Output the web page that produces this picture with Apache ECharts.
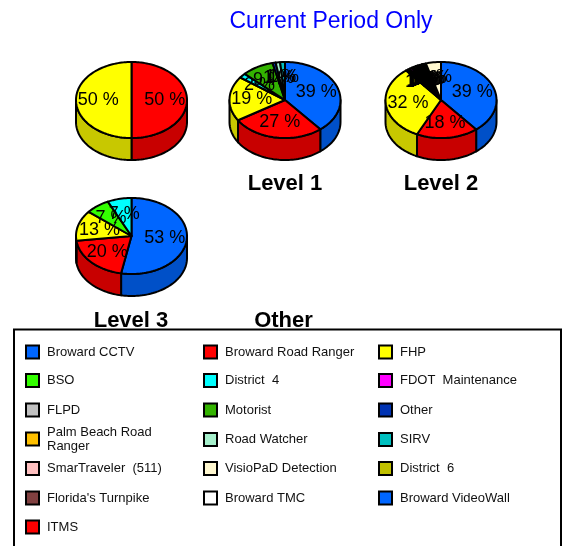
<!DOCTYPE html>
<html>
<head>
<meta charset="utf-8">
<style>html,body{margin:0;padding:0;background:#fff}#c{width:563px;height:546px}</style>
<script src="https://cdn.jsdelivr.net/npm/echarts@6/dist/echarts.min.js"></script>
</head>
<body>
<div id="c"></div>
<script>
const categories = ['Broward CCTV','Broward Road Ranger','FHP','BSO','District  4','FDOT  Maintenance','FLPD','Motorist','Other','Palm Beach Road\nRanger','Road Watcher','SIRV','SmarTraveler  (511)','VisioPaD Detection','District  6',"Florida's Turnpike",'Broward TMC','Broward VideoWall','ITMS'];
const colors = ['#0066FF','#FF0000','#FFFF00','#33FF00','#00FFFF','#FF00FF','#C0C0C0','#33B300','#0033B3','#FFC000','#A6F0CC','#00C0C0','#FFC0C0','#FFF8D0','#C0C000','#804040','#FFFFFF','#0066FF','#FF0000'];
const wallColors = ['#0050C8','#C80000','#C8C800','#28C800','#00C8C8','#C800C8','#969696','#288C00','#00288C','#C89600','#82BCA0','#009696','#C89696','#C8C2A3','#969600','#643232','#C8C8C8','#0050C8','#C80000'];
const otherValues  = [0,50,50,0,0,0,0,0,0,0,0,0,0,0,0,0,0,0,0];
const level1Values = [39,27,19,0,2,0,0,9.3,0.9,0,1.3,1.4,0,0,0,0,0,0,0];
const level2Values = [39,18,32,0.6,0.7,0.7,0.7,0.7,0.6,0.6,0.6,0.6,0.6,4.4,0,0,0,0,0];
const level3Values = [53,20,13,7,7,0,0,0,0,0,0,0,0,0,0,0,0,0,0];
const pies = [
  {values:otherValues,  cx:131.5,cy:100},
  {values:level1Values, cx:285,  cy:100},
  {values:level2Values, cx:441,  cy:100},
  {values:level3Values, cx:131.5,cy:236}
];
const RX=55.5, RY=38, DEPTH=22, LABEL_R=0.6;
const captions = [['Level 1',285,182],['Level 2',441,182],['Level 3',131,319],['Other',283.5,319]];
const legendCols = [25,203,378];
const legendRows = [351.5,380,409.5,439,468,497.5,526.5];

function pt(p,t,dy){const r=t*Math.PI/180;return [p.cx+RX*Math.sin(r),p.cy-RY*Math.cos(r)+(dy||0)];}
function arc(p,a,b,dy){const out=[];const n=Math.max(2,Math.ceil(Math.abs(b-a)/2));for(let i=0;i<=n;i++)out.push(pt(p,a+(b-a)*i/n,dy));return out;}

const pieSeries = pies.map((p,pi)=>{
  const items=[];let cum=0;
  p.values.forEach((v,i)=>{ if(v>0){items.push({cat:i,v,start:cum});cum+=v;} });
  const total=cum;
  return {
    type:'custom',coordinateSystem:'none',silent:true,animation:false,
    name:'pie'+pi,
    data:items.map(o=>[o.cat,o.v,o.start]),
    renderItem(params,api){
      const cat=api.value(0),v=api.value(1),s=api.value(2);
      const a=s/total*360,b=(s+v)/total*360;
      const children=[];
      const wa=Math.max(a,90),wb=Math.min(b,270);
      if(wb>wa){
        const top=arc(p,wa,wb,0),bot=arc(p,wb,wa,DEPTH);
        children.push({type:'polygon',shape:{points:top.concat(bot)},z2:1,style:{fill:wallColors[cat],stroke:'#000',lineWidth:2,lineJoin:'round'}});
      }
      const pts=[[p.cx,p.cy]].concat(arc(p,a,b,0));
      children.push({type:'polygon',shape:{points:pts},z2:2,style:{fill:colors[cat],stroke:'#000',lineWidth:2,lineJoin:'round'}});
      const m=(a+b)/2*Math.PI/180;
      children.push({type:'text',z2:10,style:{
        text:Math.round(v)+' %',x:p.cx+RX*LABEL_R*Math.sin(m),y:p.cy-RY*LABEL_R*Math.cos(m),
        fill:'#000',font:'18px "Liberation Sans"',align:'center',verticalAlign:'middle'}});
      return {type:'group',children};
    }
  };
});

const legendSeries = categories.map((n,i)=>({type:'custom',coordinateSystem:'none',name:n,data:[],renderItem(){return null;},itemStyle:{color:colors[i]}}));
const legends = categories.map((n,i)=>{
  const col=i%3,row=Math.floor(i/3),two=n.includes('\n');
  return {
    left:legendCols[col],top:legendRows[row]-(two?14:7),padding:0,
    itemWidth:13,itemHeight:13,itemGap:0,selectedMode:false,
    icon:'rect',
    data:[{name:n,itemStyle:{color:colors[i],borderColor:'#000',borderWidth:2}}],
    textStyle:{fontFamily:'Liberation Sans',fontSize:13,color:'#111',lineHeight:14,padding:[0,0,0,3]}
  };
});

const chart=echarts.init(document.getElementById('c'),null,{renderer:'canvas'});
chart.setOption({
  animation:false,backgroundColor:'#fff',
  title:[
    {text:'Current Period Only',left:326,top:5,textAlign:'center',textStyle:{fontFamily:'Liberation Sans',fontWeight:'normal',fontSize:23,color:'#0000FF'}}
  ].concat(captions.map(c=>({text:c[0],left:c[1]-5,top:c[2]-14,textAlign:'center',textStyle:{fontFamily:'Liberation Sans',fontWeight:'bold',fontSize:22,color:'#000'}}))),
  legend:legends,
  graphic:[{type:'rect',silent:true,shape:{x:14,y:329.5,width:547,height:240},style:{fill:'none',stroke:'#000',lineWidth:2}}],
  series:pieSeries.concat(legendSeries)
});
</script>
</body>
</html>
